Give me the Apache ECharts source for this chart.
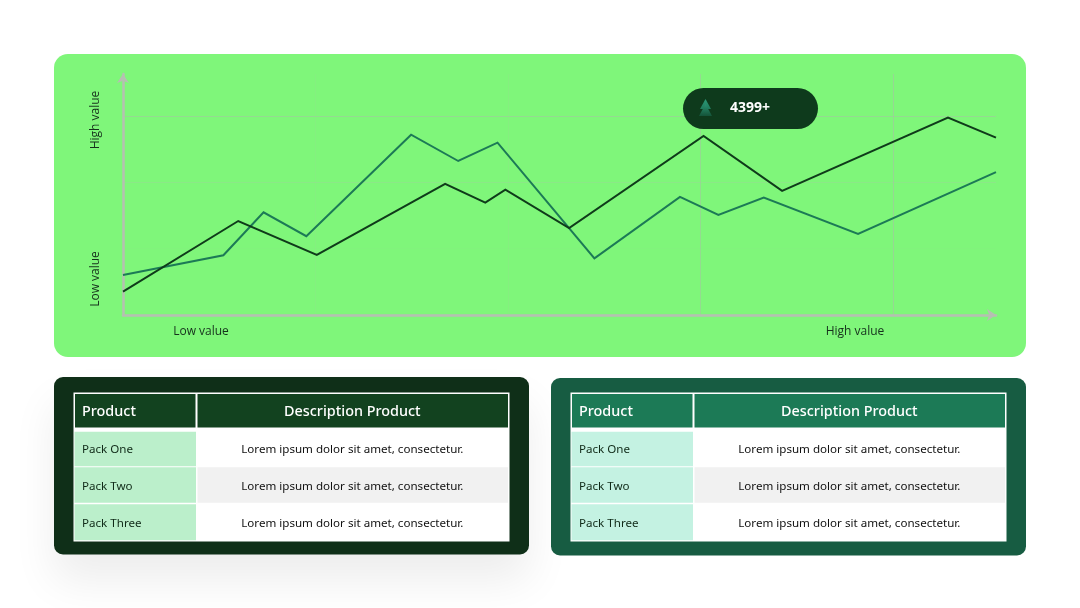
<!DOCTYPE html>
<html>
<head>
<meta charset="utf-8">
<style>html,body{margin:0;padding:0;background:#fff}#c{width:1080px;height:608px}</style>
<script src="https://cdn.jsdelivr.net/npm/echarts@6/dist/echarts.min.js"></script>
</head>
<body>
<div id="c"></div>
<script>
const darkX = [0, 13.2, 22.2, 36.9, 41.5, 43.8, 51.1, 66.5, 75.5, 94.5, 100];
const darkY = [9.7, 39.0, 24.9, 54.4, 46.6, 52.0, 36.1, 74.3, 51.5, 81.9, 73.6];
const tealX = [0, 11.5, 16.1, 21.0, 33.0, 38.4, 42.9, 54.0, 63.8, 68.2, 73.4, 84.2, 100];
const tealY = [16.6, 24.8, 42.6, 32.7, 74.8, 63.9, 71.5, 23.5, 49.0, 41.5, 48.7, 33.6, 59.3];
const axisWords = ['Low value', 'High value'];
const badgeText = '4399+';
const tableHeaders = ['Product', 'Description Product'];
const products = ['Pack One', 'Pack Two', 'Pack Three'];
const descriptions = [
  'Lorem ipsum dolor sit amet, consectetur.',
  'Lorem ipsum dolor sit amet, consectetur.',
  'Lorem ipsum dolor sit amet, consectetur.'
];

const FONT = '"Open Sans", "Noto Sans", sans-serif';
const BODY = '"Noto Sans", "Open Sans", sans-serif';
const rect = (x, y, w, h, fill, extra) => ({
  type: 'rect', z: -10, silent: true,
  shape: { x, y, width: w, height: h, r: (extra && extra.r) || 0 },
  style: Object.assign({ fill }, (extra && extra.style) || {})
});
const text = (x, y, t, size, fill, align, weight, rotation, family) => ({
  type: 'text', z: 10, silent: true, x, y, rotation: rotation || 0,
  style: { text: t, font: (weight || 400) + ' ' + size + 'px ' + (family || FONT), fill, align: align || 'left', verticalAlign: 'middle' }
});

function table(ox, oy, panelFill, headFill, labelFill, shadow) {
  const els = [];
  const panelStyle = shadow ? { shadowBlur: 44, shadowOffsetY: 26, shadowColor: 'rgba(0,0,0,0.075)' } : {};
  els.push(rect(ox, oy, 475, 177.5, panelFill, { r: 9, style: panelStyle }));
  const L = ox + 19.5, T = 392.5, W = 436, S = 123;
  els.push(rect(L, T, W, 149, '#ffffff'));
  els.push(rect(L + 1.5, T + 1.5, S - 2.5, 33.5, headFill));
  els.push(rect(L + S + 1, T + 1.5, W - S - 2.5, 33.5, headFill));
  const rows = [[431.7, 34.6, 449.2], [467.3, 35.4, 486.2], [504.3, 36, 523.2]];
  rows.forEach((r, i) => {
    els.push(rect(L + 1, r[0], S - 1.5, r[1], labelFill));
    if (i === 1) els.push(rect(L + S + 1, r[0], W - S - 2.5, r[1], '#f1f1f1'));
    els.push(text(L + 8.5, r[2], products[i], 11.6, '#102a18', 'left', 400, 0, BODY));
    els.push(text(L + S + 155.8, r[2], descriptions[i], 11.6, '#111111', 'center', 400, 0, BODY));
  });
  els.push(text(L + 8.5, 412.2, tableHeaders[0], 14.4, '#ffffff', 'left', 500, 0, BODY));
  els.push(text(L + S + 155.8, 412.2, tableHeaders[1], 14.4, '#ffffff', 'center', 500, 0, BODY));
  return els;
}

const treeFill = (a, b) => ({ type: 'linear', x: 0, y: 0, x2: 0, y2: 1, colorStops: [{ offset: 0, color: a }, { offset: 1, color: b }] });
const graphics = [
  rect(54, 54, 972, 303, '#7FF67A', { r: 14 }),
  ...table(54, 377, '#0F2F18', '#12421F', '#BBEFCB', true),
  ...table(551, 378, '#175C42', '#1C7A56', '#C4F2E2', false),
  text(96, 120, axisWords[1], 12, '#16301c', 'center', 400, Math.PI / 2),
  text(96, 279, axisWords[0], 12, '#16301c', 'center', 400, Math.PI / 2),
  text(201, 331.5, axisWords[0], 12, '#16301c', 'center'),
  text(855, 331.5, axisWords[1], 12, '#16301c', 'center'),
  { type: 'rect', z: 8, silent: true, shape: { x: 683, y: 88, width: 135, height: 41, r: 20.5 }, style: { fill: '#0E3A1C' } },
  { type: 'polygon', z: 9, silent: true, shape: { points: [[705.5, 99], [711, 109], [700, 109]] }, style: { fill: treeFill('#2C9A78', '#1E7A5C') } },
  { type: 'polygon', z: 9, silent: true, shape: { points: [[705.5, 104], [712, 116], [699, 116]] }, style: { fill: treeFill('#2A9272', '#145338') } },
  text(750, 108.5, badgeText, 14, '#ffffff', 'center', 700)
];

const line = (xs, ys, color, z) => ({
  type: 'line', z, symbol: 'none', showSymbol: false, silent: true, animation: false,
  data: xs.map((x, i) => [x, ys[i]]),
  lineStyle: { color, width: 2, join: 'miter' }
});
const axis = (interval, gridColors) => ({
  type: 'value', min: 0, max: 100, interval,
  axisLabel: { show: false }, axisTick: { show: false },
  axisLine: { show: true, symbol: ['none', 'arrow'], symbolSize: [9, 9], symbolOffset: [0, 0], lineStyle: { color: '#b6bfb2', width: 2.5 } },
  splitLine: { show: true, showMinLine: false, showMaxLine: false, lineStyle: { color: gridColors, width: 1 } }
});

const chart = echarts.init(document.getElementById('c'), null, { renderer: 'canvas' });
chart.setOption({
  animation: false,
  backgroundColor: '#ffffff',
  grid: { left: 123, top: 74, width: 873, height: 241, containLabel: false },
  xAxis: axis(22.05, ['rgba(170,200,165,0.12)', 'rgba(170,200,165,0.14)', 'rgba(170,190,165,0.5)', 'rgba(170,190,165,0.55)']),
  yAxis: axis(27.5, ['rgba(170,200,165,0.06)', 'rgba(170,200,165,0.3)', 'rgba(170,190,165,0.5)']),
  series: [line(tealX, tealY, '#1C7A56', 3), line(darkX, darkY, '#0F3B1A', 4)],
  graphic: { elements: graphics }
});
</script>
</body>
</html>
